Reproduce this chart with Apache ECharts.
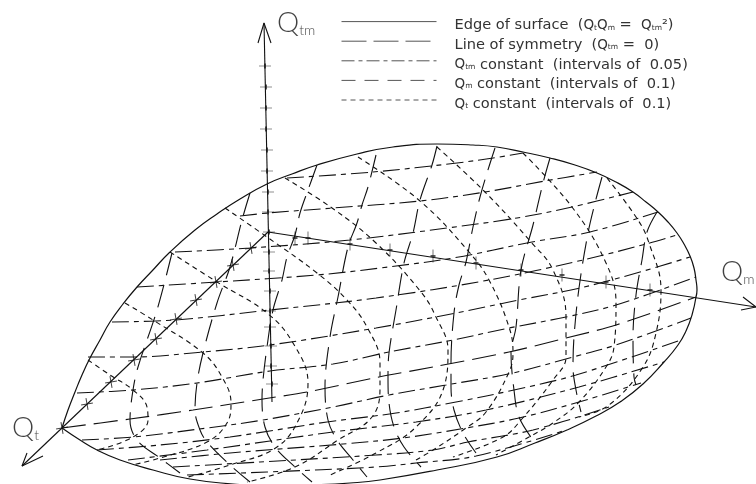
<!DOCTYPE html>
<html><head><meta charset="utf-8">
<style>html,body{margin:0;padding:0;background:#fff}#c{width:756px;height:484px}</style>
<script src="https://cdn.jsdelivr.net/npm/echarts@6/dist/echarts.min.js"></script>
</head><body><div id="c"></div>
<script>
const edgeUpper=[[62,428],[68,410],[75,392],[82,375],[90,358],[100,340],[110,322],[123,304],[137,287],[152,271],[170,252],[195,230],[217,214],[240,199],[267,184],[292,174],[317,165],[357,154],[393,147],[437,144],[473,145],[497,147],[523,152],[550,158],[575,165],[597,173],[616,182],[633,192],[646,202],[658,212],[668,222],[677,233],[684,244],[690,256],[694,268],[696,280],[697,290],[696,297]];
const edgeLower=[[62,428],[80,440],[97,450],[120,460],[153,470],[190,479],[233,484],[270,486],[310,485],[350,483],[380,480],[437,470],[497,457],[535,443],[567,430],[596,416],[620,402],[643,384],[664,362],[678,345],[686,331],[692,315],[696,297]];
const symmetry=[[62,428],[130,419],[193,410],[263,399],[307,392],[379,377],[433,367],[509,352],[566,338],[616,325],[696,297]];
const qtmLines=[
 [[287,178],[373,172],[457,163],[493,158],[523,153]],
 [[240,216],[268,213],[333,208],[420,201],[485,192],[545,181],[597,172]],
 [[175,252],[250,248],[350,240],[447,228],[517,218],[572,207],[633,192]],
 [[137,287],[217,282],[317,275],[380,268],[453,258],[532,242],[590,232],[658,212]],
 [[112,322],[175,320],[270,310],[376,298],[489,280],[583,260],[646,244],[677,235]],
 [[88,357],[133,357],[203,352],[270,345],[376,328],[456,313],[519,300],[580,288],[640,272],[690,257]],
 [[77,393],[133,390],[197,383],[270,371],[333,364],[389,352],[453,340],[509,328],[566,317],[616,305],[696,277]],
 [[82,440],[133,437],[207,428],[263,420],[333,407],[389,395],[446,385],[513,373],[573,357],[616,345],[691,318]],
 [[97,450],[160,445],[230,437],[327,422],[396,413],[456,402],[514,390],[576,375],[681,340]],
 [[128,460],[207,450],[333,432],[416,422],[486,410],[579,387],[664,362]],
 [[160,460],[230,453],[343,444],[403,438],[466,428],[519,418],[579,402],[641,383]],
 [[173,467],[260,462],[376,455],[433,450],[468,442],[533,430],[609,407]],
 [[187,475],[267,472],[376,467],[416,463],[476,456],[566,430]]
];
const qmLines=[
 [[172,253],[157,310],[138,367],[133,390],[130,420],[137,440],[160,458],[180,473]],
 [[250,193],[242,220],[230,267],[217,303],[203,353],[197,383],[195,410],[200,430],[207,442],[230,465],[250,482]],
 [[317,165],[308,190],[300,213],[295,235],[287,257],[282,280],[273,310],[267,347],[263,380],[262,400],[265,427],[275,447],[295,467],[312,482]],
 [[376,155],[368,187],[362,205],[357,223],[348,247],[338,297],[330,337],[325,387],[328,420],[337,440],[353,460],[367,477]],
 [[437,146],[432,165],[420,200],[413,233],[404,263],[396,310],[389,353],[388,377],[389,403],[394,427],[404,447],[421,467]],
 [[495,148],[487,173],[480,197],[473,227],[466,262],[459,285],[454,313],[451,363],[451,387],[454,410],[463,433],[476,453]],
 [[550,158],[543,183],[533,225],[521,270],[516,327],[511,353],[514,390],[519,417],[533,440]],
 [[602,177],[595,203],[588,233],[579,288],[574,337],[573,367],[576,390],[581,412]],
 [[657,212],[647,232],[642,260],[636,295],[633,337],[634,377],[636,385]]
];
const qtLines=[
 [[88,360],[110,375],[133,390],[147,407],[148,420],[133,437],[97,450]],
 [[125,303],[153,320],[203,353],[222,377],[231,403],[227,423],[207,442],[160,458],[132,465]],
 [[170,252],[217,282],[267,313],[293,343],[308,383],[300,417],[277,447],[230,465],[188,477]],
 [[225,208],[267,237],[317,273],[347,300],[367,327],[380,363],[380,387],[372,417],[338,440],[295,467],[247,482]],
 [[285,178],[332,208],[376,243],[421,292],[436,317],[448,350],[444,387],[416,427],[376,453],[330,475]],
 [[358,157],[420,201],[469,252],[489,280],[509,327],[513,353],[509,372],[486,412],[466,428],[433,450],[416,460]],
 [[437,147],[485,192],[531,242],[553,270],[566,317],[566,357],[553,380],[521,420],[503,437],[453,457]],
 [[523,153],[572,207],[606,263],[616,303],[614,347],[606,367],[579,402],[553,423],[529,437],[496,455]],
 [[607,178],[638,220],[649,243],[661,290],[656,333],[643,367],[609,405],[579,417]]
];
const axisQtm=[[272,402],[264,23]], arrowQtm=[[258,43],[264,23],[271,43]];
const axisQm=[[268,232],[756,307]], arrowQm=[[743,297],[756,307],[741,310]];
const axisQt=[[268,232],[22,466]], arrowQt=[[27,453],[22,466],[43,456]];
const ticksQtm=[[265,66],[266,87],[266,108],[266,129],[267,150],[267,171],[268,192],[268,212],[269,232],[269,252],[269,271],[270,291],[270,311],[270,327],[271,346],[271,366],[272,384]];
const ticksQm=[[295,238],[308,238],[350,244],[390,250],[433,256],[476,263],[521,270],[562,275],[606,282],[650,290]];
const ticksQt=[[251,248],[233,265],[216,282],[196,300],[176,319],[156,339],[134,360],[111,382],[87,404],[62,428]];
const axisNames=[{pos:[277,23],main:'Q',sub:'tm'},{pos:[721,272],main:'Q',sub:'m'},{pos:[12,428],main:'Q',sub:'t'}];
const legendNames=['Edge of surface','Line of symmetry','Qtm constant','Qm constant','Qt constant'];
const legendLabels=['{n|Edge of surface  (}{s|Q}{u|t}{s|Q}{u|m}{n| =  }{s|Q}{u|tm}{n|²)}','{n|Line of symmetry  (}{s|Q}{u|tm}{n| =  0)}','{s|Q}{u|tm}{n| constant  (intervals of  0.05)}','{s|Q}{u|m}{n| constant  (intervals of  0.1)}','{s|Q}{u|t}{n| constant  (intervals of  0.1)}'];

const ink='#111';
const styles={
 [legendNames[0]]:{type:'solid',width:1.2},
 [legendNames[1]]:{type:[24,8],width:1.1},
 [legendNames[2]]:{type:[17,5,5,5],width:1.1},
 [legendNames[3]]:{type:[23,10],width:1.1},
 [legendNames[4]]:{type:[5,4],width:1.1}
};
const lineSeries=(name,data,smooth)=>({type:'line',name,data,smooth:smooth,symbol:'none',silent:true,
  lineStyle:{color:ink,...styles[name]},itemStyle:{color:ink}});
const plain=(data)=>({type:'line',data,symbol:'none',silent:true,lineStyle:{color:ink,width:1.1}});
const ticks=(data,path,size,rot,col)=>({type:'scatter',data,symbol:path,symbolSize:size,symbolRotate:rot,silent:true,symbolKeepAspect:false,
  itemStyle:{color:'none',borderColor:col,borderWidth:1,opacity:1}});
const series=[
 lineSeries(legendNames[0],edgeUpper,0.5),
 lineSeries(legendNames[0],edgeLower,0.5),
 lineSeries(legendNames[1],symmetry,0.3),
 ...qtmLines.map(d=>lineSeries(legendNames[2],d,0.35)),
 ...qmLines.map(d=>lineSeries(legendNames[3],d,0.35)),
 ...qtLines.map(d=>lineSeries(legendNames[4],d,0.4)),
 plain(axisQtm),plain(arrowQtm),plain(axisQm),plain(arrowQm),plain(axisQt),plain(arrowQt),
 ticks(ticksQtm,'path://M0 5L10 5M5 3L5 7',[12,5],0,'#222'),
 ticks(ticksQm,'path://M5 0L5 10M3 5L7 5',[5,13],0,'#222'),
 ticks(ticksQt,'path://M0 5L10 5M5 0L5 10',[12,12],10,'#444'),
 {type:'scatter',symbolSize:0,silent:true,
  data:axisNames.map(a=>({value:a.pos,main:a.main,sub:a.sub})),
  label:{show:true,position:'right',distance:0,
   formatter:p=>`{q|${p.data.main}}{b|${p.data.sub}}`,
   rich:{q:{fontFamily:'Lato',fontWeight:300,fontSize:28,color:'#111'},
         b:{fontFamily:'Lato',fontWeight:300,fontSize:14,color:'#111',verticalAlign:'bottom'}}}}
];
const legendLine={color:'#555',width:1};
const chart=echarts.init(document.getElementById('c'),null,{renderer:'canvas'});
chart.setOption({
 animation:false,backgroundColor:'#fff',
 grid:{left:0,right:0,top:0,bottom:0},
 xAxis:{type:'value',min:0,max:756,show:false},
 yAxis:{type:'value',min:0,max:484,inverse:true,show:false},
 legend:{show:true,orient:'vertical',left:336,top:11,itemWidth:95,itemHeight:14,itemGap:2.5,selectedMode:false,
  data:[
   {name:legendNames[0],itemStyle:{opacity:0},lineStyle:{...legendLine}},
   {name:legendNames[1],itemStyle:{opacity:0},lineStyle:{...legendLine,type:[25,7]}},
   {name:legendNames[2],itemStyle:{opacity:0},lineStyle:{...legendLine,type:[13,4,4,4]}},
   {name:legendNames[3],itemStyle:{opacity:0},lineStyle:{...legendLine,type:[14,9]}},
   {name:legendNames[4],itemStyle:{opacity:0},lineStyle:{...legendLine,type:[5,4]}}
  ],
  formatter:n=>legendLabels[legendNames.indexOf(n)],
  textStyle:{padding:[8,0,0,13],rich:{
    n:{fontFamily:'DejaVu Sans',fontSize:14.6,lineHeight:12,color:'#333'},
    s:{fontFamily:'DejaVu Sans',fontSize:13.5,lineHeight:12,color:'#333'},
    u:{fontFamily:'DejaVu Sans',fontSize:7.5,lineHeight:12,color:'#333',verticalAlign:'bottom'}
  }}},
 series
});
</script></body></html>
